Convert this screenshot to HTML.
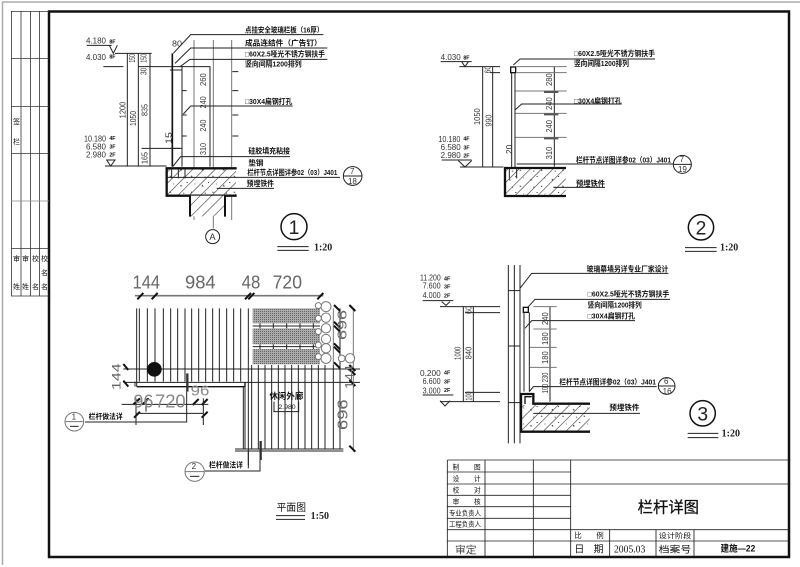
<!DOCTYPE html>
<html><head><meta charset="utf-8"><style>
html,body{margin:0;padding:0;background:#fff;width:800px;height:567px;overflow:hidden}
svg{display:block}
.l{stroke:#222;stroke-width:3;fill:none}
.g{stroke:#777;stroke-width:3;fill:none}
.t{stroke:#111;stroke-width:7;fill:none}
.c{font-family:"Liberation Sans","Noto Sans CJK SC",sans-serif;font-size:22px;font-weight:700;fill:#111}
.d{font-family:"Liberation Sans",sans-serif;font-size:24px;fill:#333}
.b{font-family:"Liberation Sans",sans-serif;font-size:56px;fill:#666}
.s{font-family:"Liberation Serif",serif;font-weight:700;font-size:30px;fill:#222}
</style></head><body>
<svg width="800" height="567" viewBox="0 0 800 567" xmlns="http://www.w3.org/2000/svg">
<defs>
<pattern id="h" width="24" height="24" patternUnits="userSpaceOnUse" patternTransform="rotate(45)"><rect width="24" height="24" fill="#fff"/><line x1="0" y1="0" x2="0" y2="24" stroke="#333" stroke-width="3.500"/></pattern>
<pattern id="con" width="64" height="48" patternUnits="userSpaceOnUse"><path d="M12 14l5 5h-6zM44 34l4 3-5 2zM54 10l3 2-3 2z" fill="#222"/><rect x="30" y="6" width="3" height="3" fill="#222"/><rect x="20" y="38" width="3" height="3" fill="#222"/></pattern>
<pattern id="dot" width="6" height="6" patternUnits="userSpaceOnUse"><rect width="6" height="6" fill="#aaa"/><rect width="3" height="3" fill="#666"/></pattern>
</defs>
<rect width="800" height="567" fill="#fff"/>
<path d="M2.500 565V2H800" fill="none" stroke="#aaa" stroke-width="1.500"/>
<rect x="49" y="11.500" width="740" height="545.500" fill="none" stroke="#111" stroke-width="2.500"/>
<g stroke="#333" stroke-width=".8" fill="none">
<path d="M11.500 11V296M21 11V296M30.500 11V296M39.500 11V296"/>
<path d="M11 11.500H49M11 58.500H49M11 106.500H49M11 153.500H49M11 248.500H49M11 296H49"/>
</g>
<path d="M11 201H49" stroke="#888" stroke-width=".8"/>
<g class="c" style="font-size:7px;font-weight:400">
<text x="13" y="124">签</text><text x="13" y="144">栏</text>
<text x="13" y="261">审</text><text x="22" y="261">审</text><text x="32" y="261">校</text><text x="41" y="261">校</text>
<text x="41" y="275">名</text>
<text x="13" y="289">姓</text><text x="22" y="289">姓</text><text x="32" y="289">名</text><text x="41" y="289">名</text>
</g>

<!-- title block -->
<g transform="translate(440,455) scale(.33333)">
<g stroke="#222" stroke-width="2.600" fill="none">
<path d="M22 15V305M135 15V305M280 15V305M392 15V305"/>
<path d="M22 51H392M22 87H1047M22 121H392M22 155H392M22 190H392M22 224H1047M22 258H1047"/>
<path d="M22 15H1047"/>
<path d="M509 224V305M648 224V305M762 224V305"/>
</g>
<g class="c" style="font-size:20px;font-weight:400">
<text x="38" y="43" textLength="84" lengthAdjust="spacing">制　　图</text>
<text x="38" y="78" textLength="84" lengthAdjust="spacing">设　　计</text>
<text x="38" y="113" textLength="84" lengthAdjust="spacing">校　　对</text>
<text x="38" y="147" textLength="84" lengthAdjust="spacing">审　　核</text>
<text x="27" y="181" textLength="96" lengthAdjust="spacingAndGlyphs">专业负责人</text>
<text x="27" y="215" textLength="96" lengthAdjust="spacingAndGlyphs">工程负责人</text>
<text x="45" y="295" style="font-size:30px;fill:#444" textLength="65" lengthAdjust="spacingAndGlyphs">审定</text>
<text x="403" y="249" textLength="88" style="font-size:22px">比　　例</text>
<text x="403" y="293" textLength="88" style="font-size:30px">日　期</text>
<text x="656" y="249" textLength="98" style="font-size:20px" lengthAdjust="spacingAndGlyphs">设计阶段</text>
<text x="656" y="293" textLength="98" style="font-size:28px" lengthAdjust="spacingAndGlyphs">档案号</text>
<text x="522" y="292" textLength="94" style="font-size:30px;font-family:'Liberation Serif',serif" lengthAdjust="spacingAndGlyphs">2005.03</text>
<text x="842" y="290" textLength="104" style="font-size:28px;font-weight:700" lengthAdjust="spacingAndGlyphs">建施—22</text>
<text x="593" y="172" textLength="184" style="font-size:46px;font-weight:400;stroke:#111;stroke-width:.8" lengthAdjust="spacingAndGlyphs">栏杆详图</text>
</g>
</g>

<!-- section 1 -->
<g transform="translate(70,20) scale(.33333)">
<path class="g" d="M372 60V600M430 60V625M485 60V600"/>
<path class="l" d="M172 100V440M205 100V440M240 100V440"/>
<path class="l" d="M135 100H245M205 140H340M215 385H330M105 438H290M100 140H160M50 76H125"/>
<path class="l" d="M118 76L130 100L142 76M110 420H135L122 438Z"/>
<path class="l" d="M336 140H420V440M336 140V440"/>
<path d="M307 100V440" stroke="#111" stroke-width="5"/>
<path class="l" d="M300 150H335M300 385H335M335 212H350M335 285H350M335 348H350M487 155H505M487 212H505M487 285H505M487 348H505"/>
<path class="l" d="M310 100L362 44H760M315 130L362 84H772M330 140L360 118H772M340 282L362 258H668M308 440L332 410H660"/>
<rect x="292" y="447" width="206" height="78" fill="url(#h)" stroke="none"/>
<rect x="292" y="447" width="206" height="78" fill="url(#con)" stroke="none"/>
<path class="l" d="M290 472H810M440 505H612"/>
<path class="t" d="M500 445H290V527H500"/>
<path class="l" d="M305 447V475M325 447V475M345 447V475"/>
<rect x="360" y="527" width="105" height="62" fill="url(#h)"/>
<path d="M360 527V590M465 527V590" stroke="#111" stroke-width="6"/>
<circle cx="428" cy="650" r="21" fill="#fff" class="l"/>
<text class="d" x="418" y="660" style="font-size:28px">A</text>
<circle cx="672" cy="620" r="39" fill="#fff" stroke="#111" stroke-width="4.500"/>
<text x="656" y="642" style="font-size:58px;font-family:'Liberation Sans';fill:#222">1</text>
<path class="l" d="M622 680H716M622 691H716"/>
<text class="s" x="732" y="691">1:20</text>
<circle cx="848" cy="468" r="28" fill="#fff" class="l"/>
<path class="l" d="M820 468H876"/>
<text class="d" x="840" y="462">7</text><text class="d" x="834" y="492">18</text>
<g class="c">
<text x="525" y="38" textLength="235" lengthAdjust="spacingAndGlyphs">点挂安全玻璃栏板（16厚）</text>
<text x="525" y="76" textLength="230" lengthAdjust="spacingAndGlyphs">成品连结件（广告钉）</text>
<text x="525" y="110" textLength="240" lengthAdjust="spacingAndGlyphs">□60X2.5哑光不锈方钢扶手</text>
<text x="525" y="140" textLength="170" lengthAdjust="spacingAndGlyphs">竖向间隔1200排列</text>
<text x="525" y="252" textLength="142" lengthAdjust="spacingAndGlyphs">□30X4扁钢打孔</text>
<text x="535" y="400" textLength="125" lengthAdjust="spacingAndGlyphs">硅胶填充粘接</text>
<text x="535" y="436" textLength="45" lengthAdjust="spacingAndGlyphs">垫钢</text>
<text x="532" y="465" textLength="270" lengthAdjust="spacingAndGlyphs">栏杆节点详图详参02（03）J401</text>
<text x="530" y="498" textLength="82" lengthAdjust="spacingAndGlyphs">预埋铁件</text>
</g>
<text class="d" x="48" y="70" textLength="60" lengthAdjust="spacingAndGlyphs">4.180</text><text class="c" x="118" y="70" style="font-size:16px">8F</text>
<text class="d" x="48" y="120" textLength="60" lengthAdjust="spacingAndGlyphs">4.030</text><text class="c" x="118" y="116" style="font-size:16px">8F</text>
<text class="d" x="42" y="365" textLength="66" lengthAdjust="spacingAndGlyphs">10.180</text><text class="c" x="118" y="360" style="font-size:16px">4F</text>
<text class="d" x="48" y="388" textLength="60" lengthAdjust="spacingAndGlyphs">6.580</text><text class="c" x="118" y="386" style="font-size:16px">3F</text>
<text class="d" x="48" y="412" textLength="60" lengthAdjust="spacingAndGlyphs">2.980</text><text class="c" x="118" y="410" style="font-size:16px">2F</text>
<g class="d">
<text transform="translate(166,295) rotate(-90)" textLength="50" lengthAdjust="spacingAndGlyphs">1200</text>
<text transform="translate(198,318) rotate(-90)" textLength="45" lengthAdjust="spacingAndGlyphs">1050</text>
<text transform="translate(232,288) rotate(-90)" textLength="36" lengthAdjust="spacingAndGlyphs">835</text>
<text transform="translate(195,128) rotate(-90)" textLength="26" lengthAdjust="spacingAndGlyphs">150</text>
<text transform="translate(230,128) rotate(-90)" textLength="26" lengthAdjust="spacingAndGlyphs">150</text>
<text transform="translate(230,165) rotate(-90)" textLength="22" lengthAdjust="spacingAndGlyphs">30</text>
<text transform="translate(232,432) rotate(-90)" textLength="36" lengthAdjust="spacingAndGlyphs">165</text>
<text transform="translate(408,198) rotate(-90)" textLength="38" lengthAdjust="spacingAndGlyphs">260</text>
<text transform="translate(408,265) rotate(-90)" textLength="36" lengthAdjust="spacingAndGlyphs">240</text>
<text transform="translate(408,335) rotate(-90)" textLength="36" lengthAdjust="spacingAndGlyphs">240</text>
<text transform="translate(408,405) rotate(-90)" textLength="36" lengthAdjust="spacingAndGlyphs">310</text>
<text transform="translate(305,372) rotate(-90)" textLength="36" lengthAdjust="spacingAndGlyphs">15</text>
<text x="306" y="80" textLength="30" lengthAdjust="spacingAndGlyphs">80</text>
</g>
</g>

<!-- section 2 -->
<g transform="translate(420,30) scale(.33333)">
<path class="l" d="M188 110V410M218 110V410M403 110V410"/>
<path class="l" d="M118 110H240M210 128H240M120 411H250M62 95H155M65 390H155"/>
<path class="l" d="M125 95L135 110L145 95M115 392L135 411L155 392"/>
<path class="g" d="M290 110H440M290 128H440M285 183H440M285 250H440M285 322H440"/>
<path d="M372 186H415M372 253H415M372 325H415" stroke="#555" stroke-width="6"/>
<rect x="272" y="111" width="15" height="17" fill="#fff" stroke="#111" stroke-width="4"/>
<path class="l" d="M275 128V412M285 128V412"/>
<path class="l" d="M280 105L300 87H705M285 240L305 222H605"/>
<rect x="257" y="416" width="180" height="80" fill="url(#h)"/>
<rect x="257" y="416" width="180" height="80" fill="url(#con)"/>
<path class="l" d="M290 402H760M400 472H555"/>
<path class="t" d="M438 414H255V498H438"/>
<path class="l" d="M268 416V445M290 416V445"/>
<circle cx="787" cy="403" r="27" fill="#fff" class="l"/><path class="l" d="M760 403H814"/>
<text class="d" x="779" y="396">7</text><text class="d" x="774" y="426">19</text>
<circle cx="843" cy="592" r="38" fill="#fff" stroke="#111" stroke-width="4.500"/>
<text x="827" y="614" style="font-size:58px;font-family:'Liberation Sans';fill:#222">2</text>
<path class="l" d="M795 653H890M795 664H890"/>
<text class="s" x="900" y="662">1:20</text>
<g class="c">
<text x="462" y="78" textLength="243" lengthAdjust="spacingAndGlyphs">□60X2.5哑光不锈方钢扶手</text>
<text x="462" y="108" textLength="165" lengthAdjust="spacingAndGlyphs">竖向间隔1200排列</text>
<text x="462" y="220" textLength="143" lengthAdjust="spacingAndGlyphs">□30X4扁钢打孔</text>
<text x="468" y="397" textLength="285" lengthAdjust="spacingAndGlyphs">栏杆节点详图详参02（03）J401</text>
<text x="468" y="468" textLength="87" lengthAdjust="spacingAndGlyphs">预埋铁件</text>
</g>
<text class="d" x="62" y="90" textLength="60" lengthAdjust="spacingAndGlyphs">4.030</text><text class="c" x="130" y="88" style="font-size:16px">8F</text>
<text class="d" x="55" y="336" textLength="66" lengthAdjust="spacingAndGlyphs">10.180</text><text class="c" x="130" y="332" style="font-size:16px">4F</text>
<text class="d" x="62" y="360" textLength="60" lengthAdjust="spacingAndGlyphs">6.580</text><text class="c" x="130" y="358" style="font-size:16px">3F</text>
<text class="d" x="62" y="384" textLength="60" lengthAdjust="spacingAndGlyphs">2.980</text><text class="c" x="130" y="382" style="font-size:16px">2F</text>
<g class="d">
<text transform="translate(180,285) rotate(-90)" textLength="50" lengthAdjust="spacingAndGlyphs">1050</text>
<text transform="translate(214,290) rotate(-90)" textLength="36" lengthAdjust="spacingAndGlyphs">990</text>
<text transform="translate(212,130) rotate(-90)" textLength="22" lengthAdjust="spacingAndGlyphs">60</text>
<text transform="translate(276,372) rotate(-90)" textLength="28" lengthAdjust="spacingAndGlyphs">20</text>
<text transform="translate(396,168) rotate(-90)" textLength="38" lengthAdjust="spacingAndGlyphs">280</text>
<text transform="translate(396,240) rotate(-90)" textLength="38" lengthAdjust="spacingAndGlyphs">240</text>
<text transform="translate(396,308) rotate(-90)" textLength="38" lengthAdjust="spacingAndGlyphs">240</text>
<text transform="translate(396,388) rotate(-90)" textLength="38" lengthAdjust="spacingAndGlyphs">310</text>
</g>
</g>

<!-- section 3 -->
<g transform="translate(420,260) scale(.33333)">
<path class="l" d="M265 15V550M283 15V550M300 15V550"/>
<path class="l" d="M265 92H300M265 258H300M265 428H300"/>
<path class="l" d="M130 140V425M160 140V425M390 140V425"/>
<path class="l" d="M60 140H240M135 158H240M135 397H240M60 425H240M8 122H100M8 405H100"/>
<path class="g" d="M340 140H410M340 207H410M330 262H410M330 322H410"/>
<path class="l" d="M60 422L75 438L90 422M65 125L78 136L90 125"/>
<rect x="310" y="142" width="15" height="15" fill="#fff" stroke="#111" stroke-width="4"/>
<path class="l" d="M312 157V395M328 157V395"/>
<path class="l" d="M300 85L335 40H745M325 140L345 118H750M315 205L335 182H645M328 395L340 380H710"/>
<rect x="305" y="435" width="204" height="78" fill="url(#h)"/>
<rect x="305" y="435" width="204" height="78" fill="url(#con)"/>
<path class="l" d="M340 460H660"/>
<path class="t" d="M510 431H340V402H303V515H510"/>
<path d="M315 432V410H335" fill="none" stroke="#111" stroke-width="4"/>
<circle cx="740" cy="378" r="25" fill="#fff" class="l"/><path class="l" d="M715 378H765"/>
<text class="d" x="732" y="372">6</text><text class="d" x="728" y="402">16</text>
<circle cx="848" cy="460" r="38" fill="#fff" stroke="#111" stroke-width="4.500"/>
<text x="832" y="482" style="font-size:58px;font-family:'Liberation Sans';fill:#222">3</text>
<path class="l" d="M803 520H895M803 533H895"/>
<text class="s" x="905" y="530">1:20</text>
<g class="c">
<text x="500" y="34" textLength="245" lengthAdjust="spacingAndGlyphs">玻璃幕墙另详专业厂家设计</text>
<text x="503" y="110" textLength="245" lengthAdjust="spacingAndGlyphs">□60X2.5哑光不锈方钢扶手</text>
<text x="503" y="142" textLength="162" lengthAdjust="spacingAndGlyphs">竖向间隔1200排列</text>
<text x="503" y="176" textLength="142" lengthAdjust="spacingAndGlyphs">□30X4扁钢打孔</text>
<text x="418" y="374" textLength="290" lengthAdjust="spacingAndGlyphs">栏杆节点详图详参02（03）J401</text>
<text x="568" y="450" textLength="90" lengthAdjust="spacingAndGlyphs">预埋铁件</text>
</g>
<text class="d" x="0" y="62" textLength="62" lengthAdjust="spacingAndGlyphs">11.200</text><text class="c" x="72" y="62" style="font-size:16px">4F</text>
<text class="d" x="8" y="86" textLength="54" lengthAdjust="spacingAndGlyphs">7.600</text><text class="c" x="72" y="86" style="font-size:16px">3F</text>
<text class="d" x="8" y="114" textLength="54" lengthAdjust="spacingAndGlyphs">4.000</text><text class="c" x="72" y="112" style="font-size:16px">2F</text>
<text class="d" x="0" y="348" textLength="62" lengthAdjust="spacingAndGlyphs">0.200</text><text class="c" x="72" y="344" style="font-size:16px">4F</text>
<text class="d" x="8" y="372" textLength="54" lengthAdjust="spacingAndGlyphs">6.600</text><text class="c" x="72" y="370" style="font-size:16px">3F</text>
<text class="d" x="8" y="400" textLength="54" lengthAdjust="spacingAndGlyphs">3.000</text><text class="c" x="72" y="396" style="font-size:16px">2F</text>
<g class="d">
<text transform="translate(122,300) rotate(-90)" textLength="40" lengthAdjust="spacingAndGlyphs">1000</text>
<text transform="translate(154,298) rotate(-90)" textLength="38" lengthAdjust="spacingAndGlyphs">840</text>
<text transform="translate(154,162) rotate(-90)" textLength="24" lengthAdjust="spacingAndGlyphs">60</text>
<text transform="translate(154,422) rotate(-90)" textLength="28" lengthAdjust="spacingAndGlyphs">100</text>
<text transform="translate(384,195) rotate(-90)" textLength="38" lengthAdjust="spacingAndGlyphs">240</text>
<text transform="translate(384,255) rotate(-90)" textLength="38" lengthAdjust="spacingAndGlyphs">180</text>
<text transform="translate(384,312) rotate(-90)" textLength="38" lengthAdjust="spacingAndGlyphs">180</text>
<text transform="translate(384,400) rotate(-90)" textLength="62" lengthAdjust="spacingAndGlyphs">100 230</text>
</g>
</g>

<!-- plan -->
<g transform="translate(60,265) scale(.33333)">
<path class="l" d="M238 130V350M262 130V350M285 130V350M310 130V350M332 130V350M353 130V350M375 130V350M395 130V350M416 130V350M437 130V350M458 130V350M478 130V350M500 130V350M521 130V350M542 130V350"/>
<path class="l" d="M230 130V365M565 130V600M575 300V552M595 300V552M615 300V552M635 300V552M655 300V552M675 300V552M695 300V552M715 300V552M735 300V552M755 300V552M775 300V552M795 300V552M820 300V552M840 130V552"/>
<path class="g" d="M820 130V300M880 130V560"/>
<rect x="578" y="130" width="202" height="45" fill="url(#dot)"/>
<rect x="578" y="190" width="202" height="48" fill="url(#dot)"/>
<rect x="578" y="252" width="202" height="46" fill="url(#dot)"/>
<path class="l" d="M578 183H780M600 175V190M640 175V190M680 175V190M720 175V190M760 175V190M578 245H780M600 238V252M640 238V252M680 238V252M720 238V252M760 238V252"/>
<path class="l" d="M190 312H900M190 352H900"/>
<path d="M230 365H555V352" fill="none" stroke="#111" stroke-width="4"/>
<path class="l" d="M550 365V552M555 368V552M525 552H850M525 558H850M225 350V365"/>
<path d="M225 92H790" stroke="#777" stroke-width="5"/>
<path d="M232 103L250 84M275 103L293 84M555 103L573 84M565 103L583 84M772 103L790 84M822 120L840 138M868 120L886 138M822 170L840 188M822 182L840 200M822 235L840 253M822 245L840 263M868 300L886 318M868 312L886 330M822 292L840 310M868 345L886 363M868 542L886 560M190 297L205 315M190 347L205 365M220 418L240 400M248 418L266 400M398 420L416 402M425 420L443 402M222 458L240 440M425 458L443 440" stroke="#111" stroke-width="6" fill="none"/>
<path class="l" d="M185 418H445M230 445H430M228 400V480M258 400V440M430 400V480"/>
<circle cx="283" cy="313" r="22" fill="#111"/>
<path d="M382 325V380M602 528V585" stroke="#333" stroke-width="7"/>
<path class="l" d="M75 471H380V380M435 618H600V585M565 560V610"/>
<g class="g">
<circle cx="798" cy="125" r="15" fill="#fff"/><circle cx="798" cy="158" r="14" fill="#fff"/><circle cx="798" cy="190" r="14" fill="#fff"/><circle cx="798" cy="222" r="14" fill="#fff"/><circle cx="798" cy="250" r="14" fill="#fff"/><circle cx="798" cy="280" r="15" fill="#fff"/>
<circle cx="775" cy="122" r="9" fill="#fff"/><circle cx="775" cy="160" r="9" fill="#fff"/><circle cx="775" cy="200" r="9" fill="#fff"/><circle cx="775" cy="240" r="9" fill="#fff"/><circle cx="775" cy="275" r="9" fill="#fff"/>
<circle cx="870" cy="280" r="14" fill="#fff"/><circle cx="845" cy="280" r="10" fill="#fff"/>
</g>
<g class="b">
<text x="218" y="70" textLength="82" lengthAdjust="spacingAndGlyphs">144</text>
<text x="375" y="70" textLength="92" lengthAdjust="spacingAndGlyphs">984</text>
<text x="545" y="70" textLength="56" lengthAdjust="spacingAndGlyphs">48</text>
<text x="638" y="70" textLength="88" lengthAdjust="spacingAndGlyphs">720</text>
<text x="220" y="428" textLength="60" lengthAdjust="spacingAndGlyphs" style="fill:#888">96</text>
<text x="285" y="428" textLength="92" lengthAdjust="spacingAndGlyphs" style="fill:#888">720</text>
<text x="392" y="392" textLength="56" lengthAdjust="spacingAndGlyphs" style="font-size:44px;fill:#888">96</text>
<text transform="translate(182,375) rotate(-90)" textLength="80" lengthAdjust="spacingAndGlyphs" style="font-size:36px">144</text>
<text transform="translate(882,372) rotate(-90)" textLength="72" lengthAdjust="spacingAndGlyphs" style="font-size:38px">144</text>
<text transform="translate(862,495) rotate(-90)" textLength="92" lengthAdjust="spacingAndGlyphs" style="font-size:44px">696</text>
<text transform="translate(860,225) rotate(-90)" textLength="90" lengthAdjust="spacingAndGlyphs" style="font-size:38px">696</text>
</g>
<circle cx="43" cy="470" r="28" fill="#fff" class="g"/><path class="g" d="M15 470H71"/>
<text class="d" x="35" y="463">1</text><path class="l" d="M30 484H56"/>
<circle cx="404" cy="620" r="29" fill="#fff" class="g"/><path class="g" d="M375 620H433"/>
<text class="d" x="395" y="612">2</text><path class="l" d="M390 634H418"/>
<g class="c">
<text x="86" y="462" textLength="102" lengthAdjust="spacingAndGlyphs">栏杆做法详</text>
<text x="447" y="608" textLength="102" lengthAdjust="spacingAndGlyphs">栏杆做法详</text>
<text x="628" y="402" textLength="102" lengthAdjust="spacingAndGlyphs" style="font-size:26px">休闲外廊</text>
<text x="655" y="432" textLength="52" lengthAdjust="spacingAndGlyphs" style="font-size:20px;font-weight:400">2.980</text>
<text x="650" y="738" textLength="88" lengthAdjust="spacingAndGlyphs" style="font-size:30px;font-weight:400">平面图</text>
</g>
<path class="l" d="M642 410V440H716V410M640 440H716"/>
<path class="l" d="M648 752H735M648 763H735"/>
<text class="s" x="752" y="762">1:50</text>
</g>
</svg>
</body></html>
